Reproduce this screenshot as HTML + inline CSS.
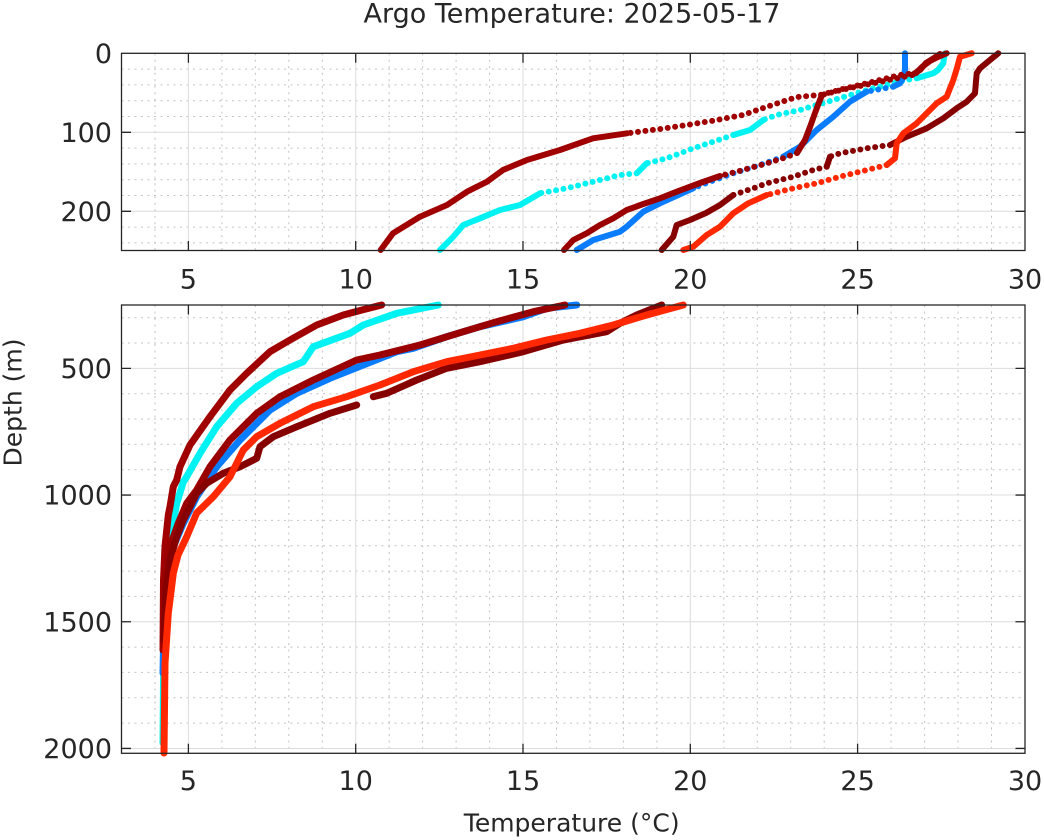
<!DOCTYPE html>
<html><head><meta charset="utf-8"><style>
html,body{margin:0;padding:0;background:#fff;}
svg{display:block;}
text{font-family:"DejaVu Sans","Liberation Sans",sans-serif;fill:#262626;}
</style></head><body>
<svg width="1044" height="840" viewBox="0 0 1044 840" xmlns="http://www.w3.org/2000/svg">
<rect x="0" y="0" width="1044" height="840" fill="#fff"/>
<!-- ===== TOP AXES ===== -->
<rect x="121.5" y="53.3" width="903.5" height="197.2" fill="#fff"/>
<g stroke="#c2c2c2" stroke-width="1" stroke-dasharray="2 4.5" fill="none">
<path d="M155,53.3V250.5M221.9,53.3V250.5M255.3,53.3V250.5M288.8,53.3V250.5M322.3,53.3V250.5M389.2,53.3V250.5M422.6,53.3V250.5M456.1,53.3V250.5M489.6,53.3V250.5M556.5,53.3V250.5M589.9,53.3V250.5M623.4,53.3V250.5M656.9,53.3V250.5M723.8,53.3V250.5M757.3,53.3V250.5M790.7,53.3V250.5M824.2,53.3V250.5M891.1,53.3V250.5M924.6,53.3V250.5M958,53.3V250.5M991.5,53.3V250.5"/>
<path d="M121.5,69.1H1025M121.5,84.9H1025M121.5,100.7H1025M121.5,116.5H1025M121.5,148.1H1025M121.5,163.9H1025M121.5,179.7H1025M121.5,195.5H1025M121.5,227.1H1025M121.5,242.9H1025"/>
</g>
<g stroke="#dcdcdc" stroke-width="1" fill="none">
<path d="M188.4,53.3V250.5M355.7,53.3V250.5M523,53.3V250.5M690.3,53.3V250.5M857.6,53.3V250.5M121.5,132.3H1025M121.5,211.3H1025"/>
</g>

<g fill="none" stroke-linecap="round" stroke-linejoin="round" stroke-width="6">
<g stroke="#00f2f2">
<polyline points="945,53.3 944,58 943.3,63.3 938,70 933.3,73.3 916.7,78.3"/>
<polyline stroke-dasharray="0 7.5" points="916.7,78.3 906.7,80 893.3,83.3 873.3,88.3 833.3,100 816.7,105 800,110 776.7,115 763.3,120"/>
<polyline points="763.3,120 750,130 733.3,135"/>
<polyline stroke-dasharray="0 7.5" points="733.3,135 713.3,141.7 693.3,148.3 666.7,158.3 646.7,163.3"/>
<polyline points="646.7,163.3 636.7,173.3"/>
<polyline stroke-dasharray="0 7.5" points="636.7,173.3 620,175 593.3,181.7 566.7,188.3 540,193.3"/>
<polyline points="540,193.3 520,205 500,210 480,218.3 463.3,225 453.3,236.7 440,250"/>
</g>
<g stroke="#0a7cff">
<polyline points="905,53.3 905,70 903,78 900,83.3 893,86.7"/>
<polyline stroke-dasharray="0 7.5" points="893,86.7 866.7,91.7"/>
<polyline points="866.7,91.7 850,101.7 833.3,116.7 816.7,130 800,146.7 783.3,156.7"/>
<polyline stroke-dasharray="0 7.5" points="783.3,156.7 760,165 733.3,173.3 710,181.7 693.3,188.3"/>
<polyline points="693.3,188.3 660,203.3 643.3,211.7 626.7,226.7 620,231.7 593.3,240 576.7,250"/>
</g>
<g stroke="#a00000">
<polyline points="946.7,53.3 938,57 930,61 922,67 916,73"/>
<polyline stroke-dasharray="0 7.5" points="916,73 900,75 873,81.7 843,89 820,95 796.7,97 767,106.7 743,115 713,120.7 693,124 660,129 627,133.3"/>
<polyline points="627,133.3 593,138.3 560,150 527,160 503,170 487,181.7 467,191.7 447,205 420,216.7 393,233.3 380.7,250"/>
</g>
<g stroke="#9a0000">
<polyline points="940,54 934,58 926,63 920,70 912,75"/>
<polyline stroke-dasharray="0 7.5" points="912,75 880,82 850,88 833,92 822,95"/>
<polyline points="822,95 818,105 815,113 810,127 805,140 797,153"/>
<polyline stroke-dasharray="0 7.5" points="797,153 783,158.3 767,163.3 743,170 720,176"/>
<polyline points="720,176 700,183 676.7,191.7 660,198.3 643.3,204 626.7,210 613.3,218.3 600,225 586.7,233.3 573.3,240 564,250"/>
</g>
<g stroke="#870000">
<polyline points="998.3,53.3 990,60 980,68.3 976.7,73.3 975,93.3 966.7,101.7 956.7,108.3 943.3,118.3 926.7,128.3 906.7,136.7 890,145"/>
<polyline stroke-dasharray="0 7.5" points="890,145 866.7,148.3 840,153.3 830,156.7"/>
<polyline points="830,156.7 826.7,166.7"/>
<polyline stroke-dasharray="0 7.5" points="826.7,166.7 813.3,170 793.3,176.7 766.7,183.3 753.3,188.3 733.3,195"/>
<polyline points="733.3,195 720,205 706,213 690,220 676.7,225 673.3,236.7 661.7,250"/>
</g>
<g stroke="#ff2800">
<polyline points="971.7,53.3 960,56.7 957,68 953.3,80 946.7,96.7 936.7,103.3 926.7,113.3 916.7,123.3 903.3,133.3 896.7,143.3 895,158.3 886.7,165"/>
<polyline stroke-dasharray="0 7.5" points="886.7,165 866.7,170 840,176.7 816.7,183.3 793.3,188.3 766.7,195"/>
<polyline points="766.7,195 748.3,203.3 733.3,213.3 720,226.7 706.7,235 693.3,246.7 683.3,250"/>
</g>
</g>

<rect x="121.5" y="53.3" width="903.5" height="197.2" fill="none" stroke="#262626" stroke-width="1.3"/>
<g stroke="#262626" stroke-width="1.3" fill="none">
<path d="M188.4,250.5v-9.5M355.7,250.5v-9.5M523,250.5v-9.5M690.3,250.5v-9.5M857.6,250.5v-9.5M188.4,53.3v9.5M355.7,53.3v9.5M523,53.3v9.5M690.3,53.3v9.5M857.6,53.3v9.5M121.5,132.3h9.5M121.5,211.3h9.5M1025,132.3h-9.5M1025,211.3h-9.5"/>
</g>
<g font-size="27" text-anchor="end">
<text x="112" y="62.8">0</text>
<text x="112" y="141.8">100</text>
<text x="112" y="220.8">200</text>
</g>
<g font-size="27" text-anchor="middle">
<text x="188.4" y="288.5">5</text>
<text x="355.7" y="288.5">10</text>
<text x="523" y="288.5">15</text>
<text x="690.3" y="288.5">20</text>
<text x="857.6" y="288.5">25</text>
<text x="1025" y="288.5">30</text>
</g>

<!-- ===== BOTTOM AXES ===== -->
<g stroke="#c2c2c2" stroke-width="1" stroke-dasharray="2 4.5" fill="none">
<path d="M155,305V753.3M221.9,305V753.3M255.3,305V753.3M288.8,305V753.3M322.3,305V753.3M389.2,305V753.3M422.6,305V753.3M456.1,305V753.3M489.6,305V753.3M556.5,305V753.3M589.9,305V753.3M623.4,305V753.3M656.9,305V753.3M723.8,305V753.3M757.3,305V753.3M790.7,305V753.3M824.2,305V753.3M891.1,305V753.3M924.6,305V753.3M958,305V753.3M991.5,305V753.3"/>
<path d="M121.5,317.7H1025M121.5,343H1025M121.5,393.7H1025M121.5,419H1025M121.5,444.3H1025M121.5,469.7H1025M121.5,520.4H1025M121.5,545.7H1025M121.5,571.1H1025M121.5,596.4H1025M121.5,647.1H1025M121.5,672.4H1025M121.5,697.8H1025M121.5,723.1H1025"/>
</g>
<g stroke="#dcdcdc" stroke-width="1" fill="none">
<path d="M188.4,305V753.3M355.7,305V753.3M523,305V753.3M690.3,305V753.3M857.6,305V753.3M121.5,368.35H1025M121.5,495.05H1025M121.5,621.75H1025M121.5,748.45H1025"/>
</g>

<g fill="none" stroke-linecap="round" stroke-linejoin="round" stroke-width="7">
<polyline stroke="#00f2f2" points="438.3,305 396.7,313.3 363.3,325 350,333.3 313.3,346.7 303.3,361.7 276.7,373.3 256.7,386.7 236.7,403.3 216.7,426.7 200,453.3 186.7,476.7 183.3,482 176.7,503.3 170,540 166,580 164,620 163,743"/>
<polyline stroke="#0a7cff" points="576.7,305 546.7,308.3 523.3,316.7 480,326.7 446.7,336.7 413.3,348.3 396.7,351.7 363.3,365 330,378.3 296.7,393.3 270,410 240,440 216.7,466.7 196.7,496.7 183.3,523.3 173.3,546.7 167,580 164,620 163,673"/>
<polyline stroke="#a00000" points="381.7,305 362,310 343.3,315 316.7,325 290,340 270,351.7 246.7,373.3 230,390 210,416.7 190,445 180,466.7 176.7,480 173.3,486.7 170,506.7 168.3,515 165,546.7 163.5,580 163,650"/>
<polyline stroke="#9a0000" points="565,305 533.3,311.7 496.7,321.7 463.3,331.7 420,345 380,355 356.7,360 313.3,380 280,396.7 256.7,413.3 230,440 210,466.7 196.7,490 186.7,503.3 178.3,523.3 170,546.7 165,580 163.5,640"/>
<polyline stroke="#870000" points="661.7,305 636.7,315 620,323.3 606.7,331.7 563.3,340 523.3,351.7 480,361.7 446.7,368.3 416.7,380 386.7,393.3 373.3,396.7"/>
<polyline stroke="#870000" points="356.7,405 330,413.3 296.7,426.7 273.3,436.7 260,446.7 256.7,458.3 240,466.7 223.3,473.3 206.7,483.3 196.7,493.3 190,506.7 183.3,520 176.7,536.7 170,560 166,590 164,640"/>
<polyline stroke="#ff2800" points="683.3,305 646.7,315 613.3,325 580,333.3 546.7,340 513.3,348.3 480,355 446.7,361.7 413.3,371.7 380,385 346.7,396.7 313.3,406.7 280,423.3 256.7,436.7 243.3,450 230,476.7 213.3,496.7 196.7,513 186.7,536.7 178,555 173.3,573.3 168.3,613.3 165,663.3 164,753"/>
</g>

<rect x="121.5" y="305" width="903.5" height="448.3" fill="none" stroke="#262626" stroke-width="1.3"/>
<g stroke="#262626" stroke-width="1.3" fill="none">
<path d="M188.4,753.3v-9.5M355.7,753.3v-9.5M523,753.3v-9.5M690.3,753.3v-9.5M857.6,753.3v-9.5M188.4,305v9.5M355.7,305v9.5M523,305v9.5M690.3,305v9.5M857.6,305v9.5M121.5,368.35h9.5M121.5,495.05h9.5M121.5,621.75h9.5M121.5,748.45h9.5M1025,368.35h-9.5M1025,495.05h-9.5M1025,621.75h-9.5M1025,748.45h-9.5"/>
</g>
<g font-size="27" text-anchor="end">
<text x="112" y="378">500</text>
<text x="112" y="504.7">1000</text>
<text x="112" y="631.4">1500</text>
<text x="112" y="758">2000</text>
</g>
<g font-size="27" text-anchor="middle">
<text x="188.4" y="790">5</text>
<text x="355.7" y="790">10</text>
<text x="523" y="790">15</text>
<text x="690.3" y="790">20</text>
<text x="857.6" y="790">25</text>
<text x="1025" y="790">30</text>
</g>

<text x="572" y="22.7" font-size="27" text-anchor="middle">Argo Temperature: 2025-05-17</text>
<text x="571.7" y="831.5" font-size="25" text-anchor="middle">Temperature (°C)</text>
<text transform="translate(21.7,402.5) rotate(-90)" font-size="25" text-anchor="middle">Depth (m)</text>
</svg>
</body></html>
